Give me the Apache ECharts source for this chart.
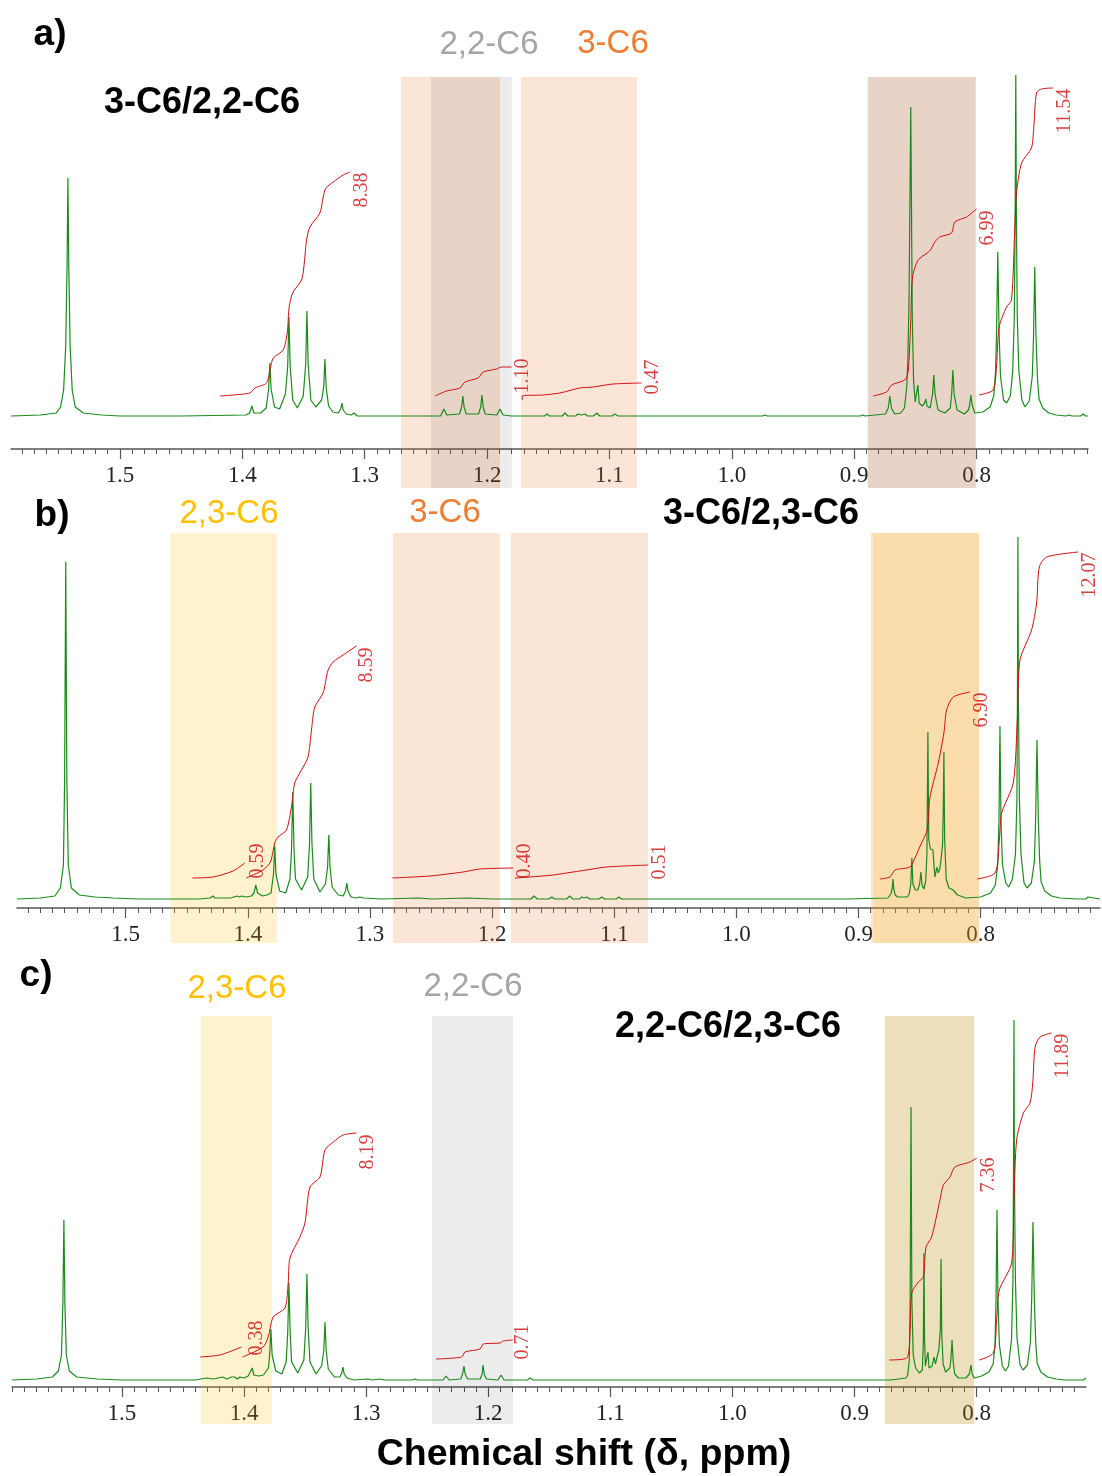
<!DOCTYPE html>
<html>
<head>
<meta charset="utf-8">
<script src="https://cdn.jsdelivr.net/npm/echarts@6/dist/echarts.min.js"></script>
<style>
html, body { margin: 0; padding: 0; background: #fff; }
#chart { width: 1102px; height: 1476px; }
</style>
</head>
<body>
<div id="chart"></div>
<script>
// axis labels (ppm)
const majorTicks = [0.8, 0.9, 1.0, 1.1, 1.2, 1.3, 1.4, 1.5];

// ---- panel a : 3-C6/2,2-C6 ----  [ppm, intensity]
const specA = [
  [1.589,0],[1.565,1],[1.552,3],[1.5485,9],[1.546,26],[1.5443,70],[1.5432,150],[1.5425,238],[1.5418,150],[1.5407,70],[1.539,26],[1.5365,9],[1.53,3],[1.515,1],[1.50,0],
  [1.45,0],[1.397,1],[1.394,3],[1.3922,10],[1.3905,3],[1.385,3],[1.3805,8],[1.3785,27],[1.3775,53],[1.3765,27],[1.3737,9],[1.3695,7],
  [1.3648,22],[1.3629,50],[1.3619,99],[1.3609,50],[1.3588,16],[1.355,8],
  [1.3502,20],[1.3482,52],[1.3472,105],[1.3462,52],[1.344,16],[1.340,9],
  [1.3352,16],[1.3335,29],[1.3325,57],[1.3315,29],[1.3295,10],[1.326,4],
  [1.3215,3],[1.3196,7],[1.3186,13],[1.3176,6],[1.315,2],[1.311,1],[1.3088,3],[1.306,0],
  [1.26,0],[1.259,1],[1.257,0],[1.247,0],[1.246,1],[1.244,0],
  [1.238,0],[1.2353,7],[1.233,1],[1.2225,2],[1.2208,9],[1.2198,20],[1.2188,9],[1.217,2],[1.207,2],[1.2052,9],[1.2042,21],[1.2032,9],[1.2015,2],[1.192,1],[1.1895,7],[1.187,1],[1.18,0],
  [1.153,0],[1.1511,2],[1.149,0],[1.1385,0],[1.1364,3],[1.134,0],[1.1275,0],[1.1258,2],[1.123,1],[1.1201,2],[1.118,0],[1.113,0],[1.1103,3],[1.108,0],[1.098,0],[1.0956,2],[1.093,0],
  [0.975,0],[0.973,1],[0.971,0],[0.895,0],[0.893,1],[0.891,0],
  [0.8745,2],[0.8722,8],[0.8709,20],[0.8696,8],[0.867,2],[0.862,3],[0.859,8],[0.857,30],[0.8562,56],[0.8552,120],[0.8538,309],[0.8526,100],[0.8515,35],[0.8502,14],[0.8488,16],[0.848,31],[0.847,13],[0.8445,10],[0.8425,13],[0.8415,17],[0.8405,10],[0.838,8],[0.836,22],[0.835,41],[0.834,22],[0.8315,6],[0.826,3],[0.8215,8],[0.8204,22],[0.8194,46],[0.8184,22],[0.816,6],[0.810,2],[0.8067,6],[0.8057,11],[0.8047,21],[0.8037,11],[0.8015,3],
  [0.795,4],[0.789,9],[0.786,20],[0.7845,45],[0.7837,85],[0.7827,164],[0.7817,85],[0.7805,40],[0.778,16],[0.7755,13],
  [0.7725,20],[0.7705,45],[0.7692,100],[0.7685,200],[0.768,341],[0.7675,200],[0.7668,100],[0.7655,45],[0.763,16],[0.7605,9],
  [0.757,15],[0.7545,40],[0.7535,80],[0.7525,149],[0.7515,80],[0.7503,38],[0.749,17],[0.746,8],[0.741,3],[0.735,1],[0.727,0],[0.7245,1],[0.722,0],[0.715,0],[0.713,2],[0.711,0],[0.709,0]
];
const intA1 = [[1.4183,20],[1.3938,23],[1.3897,28],[1.3802,33],[1.3769,49],[1.3747,58],[1.3666,66],[1.3633,83],[1.3617,109],[1.3589,123],[1.3516,136],[1.3497,149],[1.3475,176],[1.3448,189],[1.3366,203],[1.3339,219],[1.3317,228],[1.3257,234],[1.3176,241],[1.3121,244]];
const intA2 = [[1.2426,20],[1.2331,25],[1.2222,28],[1.2181,34],[1.2073,38],[1.2032,44],[1.1923,47],[1.1882,49],[1.1800,49]];
const intA3 = [[1.1713,16],[1.1713,20],[1.1542,21],[1.1405,23],[1.1242,28],[1.1133,29],[1.0970,32],[1.0738,33]];
const intA4 = [[0.8846,20],[0.8736,24],[0.8695,31],[0.8587,36],[0.8560,44],[0.8540,89],[0.8524,139],[0.8478,156],[0.8404,163],[0.8377,166],[0.8342,174],[0.8301,179],[0.8205,183],[0.8178,194],[0.8083,199],[0.8001,207]];
const intA5 = [[0.7980,21],[0.7865,26],[0.7838,49],[0.7816,89],[0.7756,109],[0.7715,116],[0.7688,189],[0.7674,223],[0.7633,253],[0.7552,268],[0.7533,289],[0.7511,323],[0.7470,327],[0.7375,328]];
const labelsA = [[1.3023,226,'8.38'],[1.1708,40,'1.10'],[1.0645,39,'0.47'],[0.7908,188,'6.99'],[0.7279,305,'11.54']];
const bandsA = [[1.2704,1.1895,'3-C6'],[1.1724,1.0776,'3-C6'],[1.2459,1.1797,'2,2-C6'],[0.8889,0.8007,'3-C6'],[0.8889,0.8007,'2,2-C6']];

// ---- panel b : 3-C6/2,3-C6 ----
const specB = [
  [1.589,0],[1.57,1],[1.558,3],[1.5535,11],[1.551,34],[1.5500,120],[1.5491,337],[1.5482,120],[1.547,34],[1.5445,11],[1.538,4],[1.525,2],[1.51,1],[1.49,0],
  [1.44,0],[1.431,1],[1.4287,3],[1.427,1],[1.418,1],[1.4165,3],[1.414,1],[1.4091,3],[1.407,2],[1.405,3],[1.402,2],[1.397,3],[1.395,6],[1.3935,14],[1.392,6],[1.388,3],[1.3845,4],[1.381,6],[1.379,25],[1.378,53],[1.377,25],[1.374,8],[1.369,6],
  [1.3655,20],[1.3642,50],[1.3632,107],[1.3622,50],[1.361,20],[1.356,9],
  [1.351,22],[1.3495,55],[1.3485,116],[1.3475,55],[1.346,20],[1.341,7],
  [1.3365,15],[1.3347,32],[1.3337,64],[1.3327,32],[1.331,12],[1.326,4],[1.322,3],[1.320,8],[1.319,16],[1.318,8],[1.3155,2],[1.311,1],[1.3084,2],[1.305,1],[1.29,0],
  [1.26,1],[1.25,0],[1.22,1],[1.20,0],[1.168,0],[1.1658,3],[1.163,0],[1.1535,0],[1.1511,2],[1.149,0],[1.139,0],[1.1364,3],[1.134,0],[1.1285,0],[1.1265,2],[1.1245,1],[1.1224,2],[1.12,0],[1.1125,0],[1.1102,2],[1.108,0],[1.0985,0],[1.0962,2],[1.094,0],[1.00,0],
  [0.91,0],[0.876,1],[0.8735,5],[0.8725,10],[0.8718,20],[0.8711,10],[0.870,4],[0.868,2],[0.860,2],[0.8585,5],[0.8572,15],[0.8563,41],[0.8555,15],[0.8535,9],[0.8515,9],[0.850,15],[0.8489,27],[0.848,14],[0.8465,10],[0.845,18],[0.844,45],[0.8432,167],[0.8425,60],[0.8412,50],[0.840,52],[0.8391,49],[0.838,30],[0.8374,22],[0.8366,27],[0.8358,32],[0.8348,26],[0.8335,30],[0.8325,39],[0.8312,55],[0.8306,90],[0.8301,147],[0.8295,60],[0.8282,20],[0.826,11],[0.8225,9],[0.821,9],[0.819,4],[0.812,1],[0.80,2],
  [0.792,6],[0.788,14],[0.786,35],[0.785,80],[0.7842,173],[0.7834,80],[0.7822,35],[0.7795,16],[0.777,12],
  [0.774,20],[0.7715,45],[0.7703,100],[0.7699,200],[0.7695,362],[0.7691,200],[0.7683,100],[0.767,45],[0.7645,16],[0.762,11],
  [0.7585,16],[0.756,38],[0.755,80],[0.7539,159],[0.7528,80],[0.7517,38],[0.7505,17],[0.7475,8],[0.742,3],[0.735,1],[0.72,0],[0.714,0],[0.7121,2],[0.7105,0],[0.7023,0]
];
const intB1 = [[1.4454,21],[1.4285,22],[1.4121,28],[1.4025,36]];
const intB2 = [[1.4012,21],[1.3876,29],[1.3815,37],[1.3780,56],[1.3753,62],[1.3684,69],[1.3643,92],[1.3616,116],[1.3561,129],[1.3507,142],[1.3479,169],[1.3452,192],[1.3384,206],[1.3343,229],[1.3302,237],[1.3220,244],[1.3111,253]];
const intB3 = [[1.2816,21],[1.2510,23],[1.2238,27],[1.2101,30],[1.1828,31]];
const intB4 = [[1.1814,21],[1.1691,22],[1.1500,24],[1.1391,26],[1.1227,29],[1.1064,32],[1.0722,34]];
const intB5 = [[0.8825,20],[0.8743,22],[0.8702,29],[0.8579,32],[0.8538,41],[0.8492,54],[0.8438,69],[0.8415,102],[0.8347,136],[0.8301,166],[0.8279,189],[0.8224,202],[0.8088,207]];
const intB6 = [[0.8027,20],[0.7882,26],[0.7847,59],[0.7828,86],[0.7733,116],[0.7700,179],[0.7678,239],[0.7583,269],[0.7542,296],[0.7520,332],[0.7460,342],[0.7201,347]];
const labelsB = [[1.3919,38,'0.59'],[1.3026,234,'8.59'],[1.1732,38,'0.40'],[1.0627,37,'0.51'],[0.7989,189,'6.90'],[0.7105,324,'12.07']];
const bandsB = [[1.4631,1.3763,'2,3-C6'],[1.2813,1.1937,'3-C6'],[1.1847,1.0725,'3-C6'],[0.8898,0.8014,'3-C6'],[0.888,0.8014,'2,3-C6']];

// ---- panel c : 2,2-C6/2,3-C6 ----
const specC = [
  [1.590,0],[1.57,1],[1.557,3],[1.552,9],[1.5495,25],[1.5483,78],[1.5475,160],[1.5467,78],[1.5455,25],[1.543,9],[1.537,3],[1.52,1],[1.50,0],
  [1.44,0],[1.4306,2],[1.425,1],[1.4175,3],[1.414,1],[1.4102,3],[1.409,1],[1.4075,3],[1.4055,1],[1.4034,3],[1.40,2],[1.3966,4],[1.395,6],[1.3933,12],[1.392,5],[1.388,4],[1.384,5],[1.380,12],[1.379,26],[1.378,51],[1.377,25],[1.374,9],[1.369,6],
  [1.3655,18],[1.3642,47],[1.3632,97],[1.3622,47],[1.361,18],[1.356,7],
  [1.351,20],[1.3495,52],[1.3485,106],[1.3475,52],[1.346,18],[1.341,6],
  [1.3365,14],[1.3347,29],[1.3337,58],[1.3327,29],[1.331,11],[1.326,3],[1.3215,3],[1.320,7],[1.319,13],[1.318,6],[1.3155,2],[1.31,0],[1.2985,1],[1.295,0],[1.2887,1],[1.285,0],
  [1.262,0],[1.26,1],[1.258,0],[1.237,0],[1.2346,4],[1.232,0],[1.2225,1],[1.221,6],[1.2199,14],[1.2189,6],[1.217,1],[1.2065,1],[1.205,6],[1.2043,15],[1.2033,6],[1.2015,1],[1.192,0],[1.1896,5],[1.187,0],[1.168,0],[1.1658,2],[1.163,0],[1.129,0],[1.1274,1.5],[1.125,0],[1.114,0],[1.1126,1],[1.11,0],
  [0.91,0],[0.87,0],[0.858,2],[0.8565,5],[0.8552,20],[0.8545,80],[0.8538,273],[0.8531,80],[0.852,25],[0.850,12],[0.847,7],[0.8445,10],[0.8437,40],[0.8432,127],[0.8427,40],[0.842,14],[0.841,12],[0.8399,28],[0.839,12],[0.8365,14],[0.835,23],[0.8338,16],[0.8325,23],[0.831,30],[0.8298,50],[0.8292,121],[0.8286,45],[0.8275,16],[0.8255,8],[0.822,12],[0.8212,20],[0.8202,40],[0.8192,18],[0.818,6],[0.815,2],[0.809,2],[0.806,6],[0.8047,15],[0.8037,6],[0.802,2],
  [0.796,4],[0.790,8],[0.7865,16],[0.785,35],[0.7842,80],[0.7834,170],[0.7826,80],[0.7814,35],[0.779,14],[0.7765,9],
  [0.774,14],[0.7715,40],[0.7703,100],[0.7699,200],[0.7695,360],[0.7691,200],[0.7683,100],[0.767,42],[0.7645,15],[0.762,10],
  [0.7585,15],[0.756,38],[0.755,80],[0.7539,158],[0.7528,80],[0.7517,38],[0.7505,17],[0.7475,8],[0.742,3],[0.735,1],[0.728,0],[0.7269,1],[0.725,0],[0.7125,0],[0.7105,2]
];
const intC1 = [[1.4361,23],[1.4197,25],[1.4020,33]];
const intC2 = [[1.4012,23],[1.3843,33],[1.3802,43],[1.3761,63],[1.3665,72],[1.3638,97],[1.3624,122],[1.3542,143],[1.3501,157],[1.3460,193],[1.3378,203],[1.3337,230],[1.3269,238],[1.3188,245],[1.3078,247]];
const intC3 = [[1.2428,21],[1.2218,23],[1.2191,28],[1.2068,31],[1.2041,36],[1.1904,37],[1.1877,39],[1.1800,40]];
const intC4 = [[0.8716,20],[0.8573,22],[0.8546,47],[0.8532,87],[0.8478,98],[0.8437,103],[0.8415,133],[0.8369,143],[0.8301,180],[0.8273,195],[0.8219,203],[0.8178,213],[0.8055,218],[0.8000,222]];
const intC5 = [[0.7979,20],[0.7864,27],[0.7837,60],[0.7815,90],[0.7714,117],[0.7695,180],[0.7673,240],[0.7618,267],[0.7563,277],[0.7541,297],[0.7522,333],[0.7481,343],[0.7386,347]];
const labelsC = [[1.3894,42,'0.38'],[1.2985,228,'8.19'],[1.1716,38,'0.71'],[0.7899,205,'7.36'],[0.7293,324,'11.89']];
const bandsC = [[1.4353,1.3771,'2,3-C6'],[1.2461,1.1798,'2,2-C6'],[0.8751,0.8022,'2,3-C6'],[0.8751,0.8022,'2,2-C6']];

// ---- layout / styles ----
const H = 1476;
const bandColors = {
  '3-C6': 'rgba(237,125,49,0.2)',
  '2,2-C6': 'rgba(0,0,0,0.075)',
  '2,3-C6': 'rgba(255,192,0,0.2)'
};
const panels = [
  {spec: specA, ints: [intA1, intA2, intA3, intA4, intA5], labels: labelsA, bands: bandsA,
   left: 11, right: 14, xmin: 0.709, xmax: 1.589, top: 60, axisY: 449, base: 416, bandTop: 77, bandBottom: 488},
  {spec: specB, ints: [intB1, intB2, intB3, intB4, intB5, intB6], labels: labelsB, bands: bandsB,
   left: 17, right: 2, xmin: 0.7023, xmax: 1.589, top: 530, axisY: 908, base: 899, bandTop: 533, bandBottom: 943},
  {spec: specC, ints: [intC1, intC2, intC3, intC4, intC5], labels: labelsC, bands: bandsC,
   left: 12, right: 16, xmin: 0.7105, xmax: 1.590, top: 1010, axisY: 1387, base: 1380, bandTop: 1016, bandBottom: 1424}
];
const texts = [
  ['a)', 50, 35, 37, 'bold', '#000'],
  ['3-C6/2,2-C6', 202, 103, 36, 'bold', '#000'],
  ['2,2-C6', 489, 45, 33, 'normal', '#A5A5A5'],
  ['3-C6', 613, 44, 33, 'normal', '#ED7D31'],
  ['b)', 52, 516, 37, 'bold', '#000'],
  ['2,3-C6', 229, 514, 33, 'normal', '#FFC000'],
  ['3-C6', 445, 513, 33, 'normal', '#ED7D31'],
  ['3-C6/2,3-C6', 761, 514, 36, 'bold', '#000'],
  ['c)', 36, 976, 37, 'bold', '#000'],
  ['2,3-C6', 237, 989, 33, 'normal', '#FFC000'],
  ['2,2-C6', 473, 987, 33, 'normal', '#A5A5A5'],
  ['2,2-C6/2,3-C6', 728, 1027, 36, 'bold', '#000'],
  ['Chemical shift (δ, ppm)', 584, 1455, 37.5, 'bold', '#000']
];

let chart = echarts.init(document.getElementById('chart'));
let option = {
  animation: false,
  backgroundColor: '#fff',
  grid: [], xAxis: [], yAxis: [], series: [],
  graphic: texts.map(t => ({
    type: 'text', x: t[1], y: t[2], z: 10,
    style: {
      text: t[0], fill: t[5],
      font: t[4] + ' ' + t[3] + 'px "Liberation Sans", Arial, sans-serif',
      align: 'center', verticalAlign: 'middle'
    }
  }))
};

panels.forEach((p, i) => {
  const g = i * 2, xi = i * 3, yi = i * 2;
  option.grid.push({left: p.left, right: p.right, top: p.top, bottom: H - p.axisY});
  option.grid.push({left: p.left, right: p.right, top: p.bandTop, bottom: H - p.bandBottom});

  // minor ticks every 0.01 ppm
  let minor = [];
  for (let k = Math.ceil(p.xmin * 100); k <= Math.floor(p.xmax * 100); k++) minor.push(k / 100);

  const xBase = {type: 'value', gridIndex: g, min: p.xmin, max: p.xmax, inverse: true,
                 position: 'bottom', splitLine: {show: false}};
  option.xAxis.push(Object.assign({}, xBase, {
    axisLine: {show: true, onZero: false, lineStyle: {color: '#555', width: 1.5}},
    axisTick: {show: true, customValues: minor, length: 5, lineStyle: {color: '#555', width: 1}},
    axisLabel: {show: false}
  }));
  option.xAxis.push(Object.assign({}, xBase, {
    axisLine: {show: false, onZero: false},
    axisTick: {show: true, customValues: majorTicks, length: 10, lineStyle: {color: '#555', width: 1.2}},
    axisLabel: {show: true, customValues: majorTicks, formatter: v => v.toFixed(1),
                fontFamily: '"Liberation Serif", "Times New Roman", serif', fontSize: 23, color: '#222', margin: 15}
  }));
  option.xAxis.push({type: 'value', gridIndex: g + 1, min: p.xmin, max: p.xmax, inverse: true, show: false});

  option.yAxis.push({type: 'value', gridIndex: g, min: -(p.axisY - p.base), max: p.base - p.top, show: false});
  option.yAxis.push({type: 'value', gridIndex: g + 1, min: 0, max: 1, show: false});

  // shaded regions
  option.series.push({
    type: 'line', xAxisIndex: xi + 2, yAxisIndex: yi + 1, data: [], z: -1, silent: true,
    markArea: {
      silent: true, label: {show: false},
      data: p.bands.map(b => [{xAxis: b[0], itemStyle: {color: bandColors[b[2]]}}, {xAxis: b[1]}])
    }
  });
  // spectrum
  option.series.push({
    type: 'line', xAxisIndex: xi, yAxisIndex: yi, data: p.spec, showSymbol: false, silent: true, z: 3,
    lineStyle: {color: '#1b8a1b', width: 1.2}
  });
  // integrals
  p.ints.forEach(seg => {
    option.series.push({
      type: 'line', xAxisIndex: xi, yAxisIndex: yi, data: seg, showSymbol: false, silent: true, z: 4,
      smooth: 0.25, lineStyle: {color: '#cc1111', width: 1}
    });
  });
  // integral values
  option.series.push({
    type: 'scatter', xAxisIndex: xi, yAxisIndex: yi, symbolSize: 0, silent: true, z: 5,
    data: p.labels.map(l => [l[0], l[1], l[2]]),
    label: {show: true, position: 'inside', rotate: 90, formatter: d => d.value[2],
            fontFamily: '"Liberation Serif", "Times New Roman", serif', fontSize: 20, color: '#cc1111'}
  });
});

chart.setOption(option);
window.addEventListener('resize', function(){ chart.resize(); });
</script>
</body>
</html>
